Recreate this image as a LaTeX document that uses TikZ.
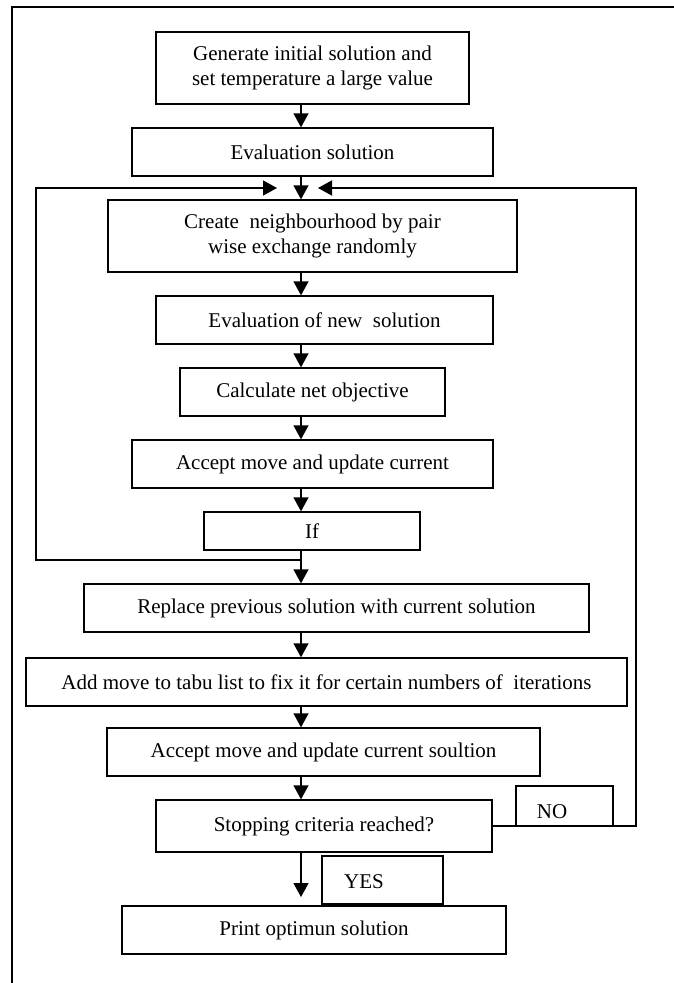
\documentclass[tikz,border=0pt]{standalone}
\usepackage{fontspec}
\setmainfont{Liberation Serif}
\usetikzlibrary{arrows.meta}
\begin{document}
\begin{tikzpicture}[x=1pt,y=-1pt,
  every node/.style={font=\fontsize{21}{25}\selectfont},
  box/.style={draw,line width=1.4pt,rectangle,inner sep=0pt,align=center},
  lbl/.style={draw,line width=1.4pt,rectangle,inner sep=0pt,fill=white},
  conn/.style={line width=1.4pt},
  arr/.style={line width=1.4pt,-{Triangle[length=14pt,width=15pt]}}]
\useasboundingbox (0,0) rectangle (674,983);
% page frame
\draw[line width=1.2pt] (674,7) -- (12,7) -- (12,983);
% boxes
\node[box,minimum width=313,minimum height=72] (b1) at (312.5,68) {Generate initial solution and\\set temperature a large value};
\node[box,minimum width=361,minimum height=48] (b2) at (312.5,152) {Evaluation solution};
\node[box,minimum width=409,minimum height=72] (b3) at (312.5,236) {Create\ \ neighbourhood by pair\\wise exchange randomly};
\node[box,minimum width=337,minimum height=48] (b4) at (324.5,320) {Evaluation of new\ \ solution};
\node[box,minimum width=265,minimum height=48] (b5) at (312.5,392) {Calculate net objective};
\node[box,minimum width=361,minimum height=48] (b6) at (312.5,464) {Accept move and update current};
\node[box,minimum width=216,minimum height=38] (b7) at (312,531) {If};
\node[box,minimum width=505,minimum height=48] (b8) at (336.5,608) {Replace previous solution with current solution};
\node[box,minimum width=601,minimum height=48] (b9) at (326.5,682) {Add move to tabu list to fix it for certain numbers of\ \ iterations};
\node[box,minimum width=433,minimum height=48] (b10) at (323.5,752) {Accept move and update current soultion};
\node[box,minimum width=336,minimum height=52] (b11) at (324,826) {Stopping criteria reached?};
\node[box,minimum width=384,minimum height=48] (b12) at (314,930) {Print optimun solution};
% coordinates
\coordinate (ax) at (301,0);
\coordinate (L) at (36,560);
\coordinate (top) at (36,188);
\coordinate (lt) at (277,188);
\coordinate (rt) at (318,188);
\coordinate (R) at (636,0);
\coordinate (yesend) at (301,897);
% main arrows
\draw[arr] (b1.south -| ax) -- (b2.north -| ax);
\draw[arr] (b2.south -| ax) -- (b3.north -| ax);
\draw[arr] (b3.south -| ax) -- (b4.north -| ax);
\draw[arr] (b4.south -| ax) -- (b5.north -| ax);
\draw[arr] (b5.south -| ax) -- (b6.north -| ax);
\draw[arr] (b6.south -| ax) -- (b7.north -| ax);
\draw[arr] (b7.south -| ax) -- (b8.north -| ax);
\draw[arr] (b8.south -| ax) -- (b9.north -| ax);
\draw[arr] (b9.south -| ax) -- (b10.north -| ax);
\draw[arr] (b10.south -| ax) -- (b11.north -| ax);
\draw[arr] (b11.south -| yesend) -- (yesend);
% loops
\draw[arr] (ax |- L) -- (L) -- (top) -- (lt);
\draw[arr] (b11.east) -- (b11.east -| R) -- (R |- top) -- (rt);
% labels
\node[lbl,minimum width=97,minimum height=40] (no) at (564.5,806) {};
\node[anchor=base] (notext) at (552,818) {NO};
\node[lbl,minimum width=121,minimum height=48] (yes) at (382.5,880) {};
\node[anchor=base west,inner sep=0pt] (yestext) at (344,888) {YES};
\end{tikzpicture}
\end{document}
